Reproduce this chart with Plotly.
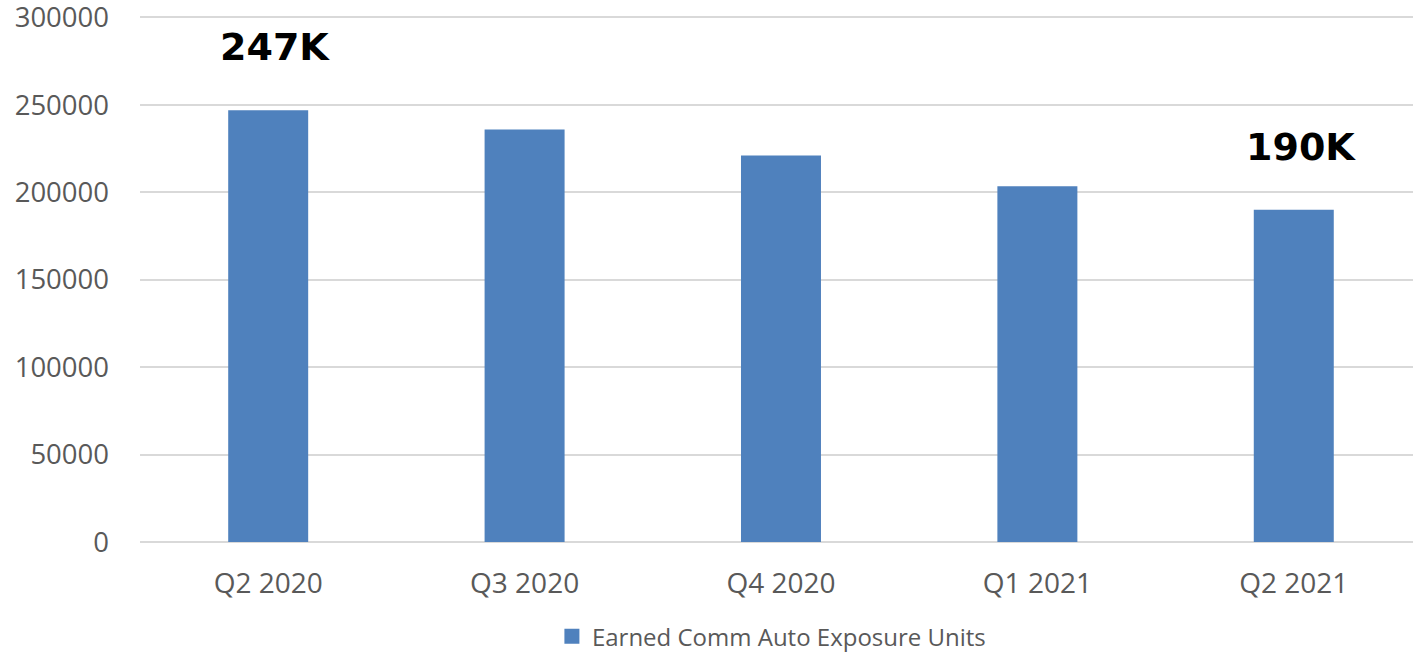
import plotly.graph_objects as go

# Quarterly earned commercial auto exposure units
quarters = ["Q2 2020", "Q3 2020", "Q4 2020", "Q1 2021", "Q2 2021"]
exposure_units = [247000, 236000, 221000, 203500, 190000]
series_name = "Earned Comm Auto Exposure Units"

# Callout labels for the first and last quarter
callout_quarters = ["Q2 2020", "Q2 2021"]
callout_values = [247000, 190000]
callout_texts = ["247K", "190K"]

y_ticks = [0, 50000, 100000, 150000, 200000, 250000, 300000]

bar_color = "#4f81bd"
grid_color = "#d9d9d9"
text_color = "#595959"
family = "Open Sans, Noto Sans, sans-serif"

fig = go.Figure()
fig.add_trace(go.Bar(
    x=quarters,
    y=exposure_units,
    name=series_name,
    marker=dict(color=bar_color, line=dict(width=0)),
    width=0.312,
    showlegend=False,
))
# Legend entry with a larger square swatch
fig.add_trace(go.Scatter(
    x=[None], y=[None], mode="markers", name=series_name,
    marker=dict(symbol="square", size=15, color=bar_color),
    showlegend=True,
))

for q, v, t in zip(callout_quarters, callout_values, callout_texts):
    fig.add_annotation(
        x=q, y=v, text=t, showarrow=False,
        xanchor="center", yanchor="middle",
        xshift=7, yshift=63,
        font=dict(family="DejaVu Sans, sans-serif", size=38, color="black", weight="bold"),
    )

fig.update_layout(
    width=1413, height=653,
    margin=dict(l=140, r=0, t=0, b=111),
    paper_bgcolor="white", plot_bgcolor="white",
    showlegend=True,
    legend=dict(
        orientation="h", x=0.496, xanchor="center",
        yref="container", y=0.025, yanchor="middle",
        font=dict(family=family, size=24, color=text_color),
        itemwidth=30,
    ),
    xaxis=dict(
        type="category",
        range=[-0.5, 4.465],
        showgrid=False, showline=False, zeroline=False,
        tickfont=dict(family=family, size=28, color=text_color),
        ticks="", ticklabelstandoff=22,
    ),
    yaxis=dict(
        range=[0, 310000],
        tickvals=y_ticks,
        tickformat="d",
        automargin=False,
        ticklabeloverflow="allow",
        showgrid=True, gridcolor=grid_color, gridwidth=1.5,
        zeroline=True, zerolinecolor=grid_color, zerolinewidth=1.5,
        showline=False,
        tickfont=dict(family=family, size=27.5, color=text_color),
        ticks="", ticklabelstandoff=30,
    ),
)

fig.write_html("out.html")
